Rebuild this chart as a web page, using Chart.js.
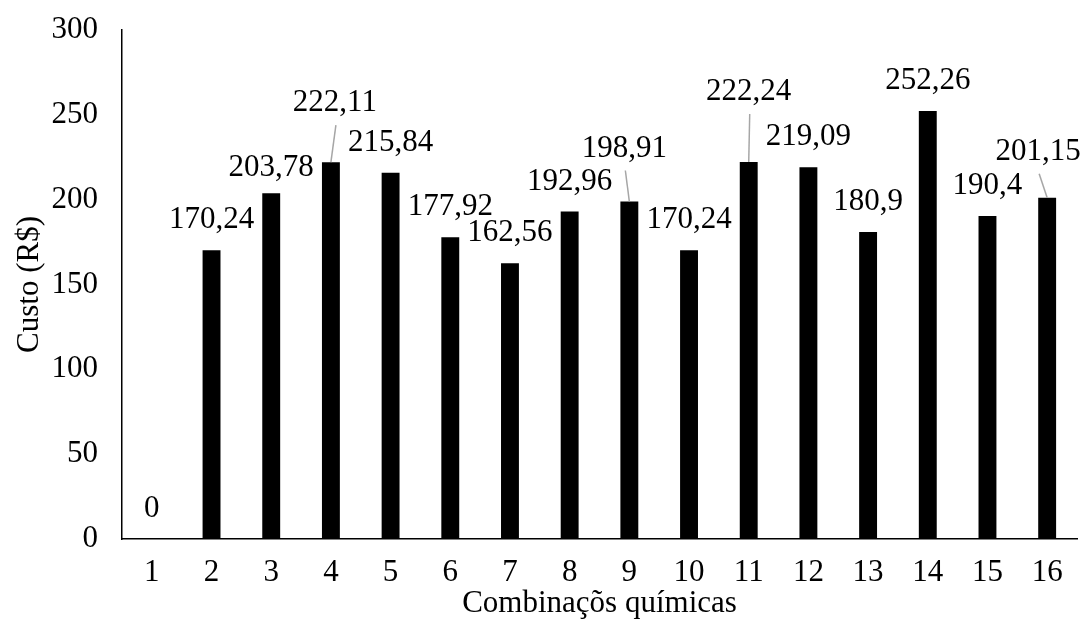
<!DOCTYPE html>
<html lang="pt">
<head>
<meta charset="utf-8">
<title>Custo das combinações químicas</title>
<script src="https://cdn.jsdelivr.net/npm/chart.js@4/dist/chart.umd.min.js"></script>
<style>
  html, body { margin: 0; padding: 0; background: #ffffff; }
  #wrap { width: 1089px; height: 628px; }
</style>
</head>
<body>
<div id="wrap"><canvas id="chart" width="1089" height="628"></canvas></div>
<script>
// Combination numbers shown along the x axis
const categories = ['1', '2', '3', '4', '5', '6', '7', '8', '9', '10', '11', '12', '13', '14', '15', '16'];

// Cost of each combination (R$)
const costs = [0, 170.24, 203.78, 222.11, 215.84, 177.92, 162.56, 192.96, 198.91, 170.24,
               222.24, 219.09, 180.9, 252.26, 190.4, 201.15];

// Value axis ticks
const yTicks = [0, 50, 100, 150, 200, 250, 300];

const FONT_FAMILY = '"Liberation Serif", "Times New Roman", Times, serif';
const FONT_SIZE = 31;

// Label placement relative to the top of each bar (dx, dy in px);
// a few labels are nudged upward and tied back to their bar with a leader line.
const LABEL_DEFAULT = { dx: 0, dy: -30, leader: false };
const labelNudges = {
  2:  { dx: 0,  dy: -25, leader: false },
  3:  { dx: 4,  dy: -59, leader: true },
  8:  { dx: -5, dy: -53, leader: true },
  10: { dx: 0,  dy: -70, leader: true },
  15: { dx: -9, dy: -46, leader: true }
};

const formatPt = v => String(v).replace('.', ',');

const barValueLabels = {
  id: 'barValueLabels',
  afterDatasetsDraw(chart) {
    const ctx = chart.ctx;
    const meta = chart.getDatasetMeta(0);
    ctx.save();
    ctx.font = FONT_SIZE + 'px ' + FONT_FAMILY;
    ctx.textAlign = 'center';
    ctx.textBaseline = 'middle';
    meta.data.forEach((bar, i) => {
      const p = labelNudges[i] || LABEL_DEFAULT;
      const lx = bar.x + p.dx;
      const ly = bar.y + p.dy;
      if (p.leader) {
        ctx.strokeStyle = '#a6a6a6';
        ctx.lineWidth = 1.5;
        ctx.beginPath();
        ctx.moveTo(lx + 1, ly + 22);
        ctx.lineTo(bar.x, bar.y);
        ctx.stroke();
      }
      ctx.fillStyle = '#000000';
      ctx.fillText(formatPt(costs[i]), lx, ly);
    });
    ctx.restore();
  }
};

new Chart(document.getElementById('chart'), {
  type: 'bar',
  data: {
    labels: categories,
    datasets: [{
      data: costs,
      backgroundColor: '#000000',
      borderWidth: 0,
      barPercentage: 0.3,
      categoryPercentage: 1.0
    }]
  },
  options: {
    responsive: false,
    devicePixelRatio: 1,
    animation: false,
    layout: { padding: { top: 30, right: 12, left: 0, bottom: 0 } },
    plugins: {
      legend: { display: false },
      tooltip: { enabled: false }
    },
    scales: {
      x: {
        grid: { display: false, drawTicks: false },
        border: { display: true, color: '#000000', width: 1.5 },
        ticks: {
          color: '#000000',
          font: { family: FONT_FAMILY, size: FONT_SIZE },
          padding: 15,
          maxRotation: 0
        },
        title: {
          display: true,
          text: 'Combinaçõs químicas',
          color: '#000000',
          font: { family: FONT_FAMILY, size: FONT_SIZE },
          padding: { top: 0, bottom: 6 }
        },
        afterFit(scale) { scale.height = 89; }
      },
      y: {
        min: 0,
        max: 300,
        grid: { display: false, drawTicks: false },
        border: { display: true, color: '#000000', width: 1.5 },
        afterBuildTicks(scale) { scale.ticks = yTicks.map(v => ({ value: v })); },
        ticks: {
          color: '#000000',
          font: { family: FONT_FAMILY, size: FONT_SIZE },
          padding: 24
        },
        title: {
          display: true,
          text: 'Custo (R$)',
          color: '#000000',
          font: { family: FONT_FAMILY, size: FONT_SIZE },
          padding: { top: 11, bottom: 0 }
        },
        afterFit(scale) {
          scale.width = 122;
          scale.paddingTop = 0;
          scale.paddingBottom = 0;
        }
      }
    }
  },
  plugins: [barValueLabels]
});
</script>
</body>
</html>
